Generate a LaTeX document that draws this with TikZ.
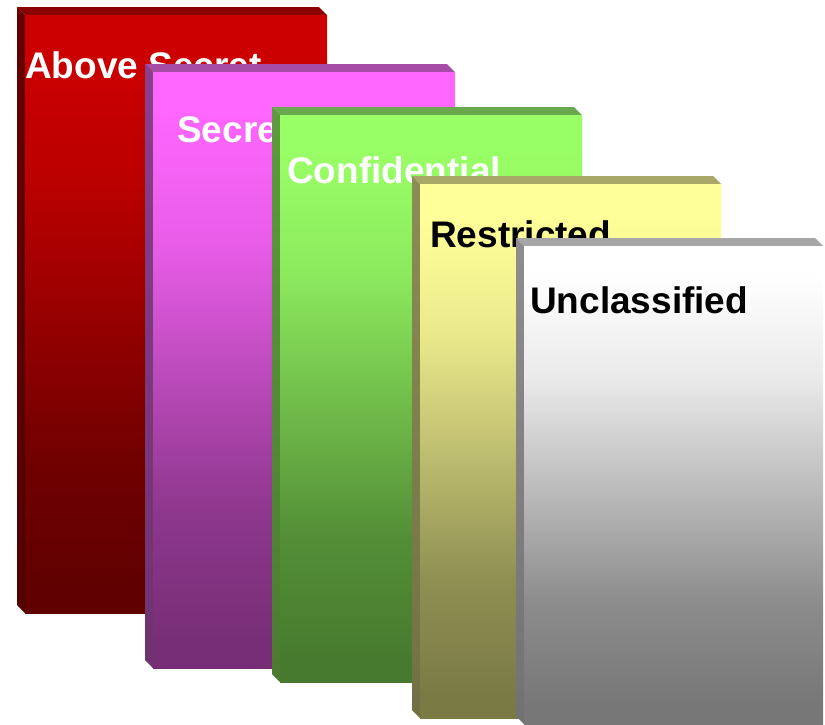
\documentclass[tikz,border=0pt]{standalone}
\usepackage{fontspec}
\setmainfont{Liberation Sans}
\begin{document}
\begin{tikzpicture}[x=1pt, y=-1pt,
    label/.style={anchor=base west, inner sep=0pt, font=\fontsize{37}{40}\selectfont\bfseries}]
    \useasboundingbox (0,0) rectangle (825,724);

    % Draw one bevelled block: #1 x, #2 y, #3 right, #4 bottom, #5 top strip, #6 side strip, #7 front top, #8 front bottom
    \newcommand{\levelblock}[8]{%
        \pgfdeclareverticalshading{front#7}{100bp}{color(0bp)=(#8); color(27bp)=(#8);
            color(38bp)=(#7!16!#8); color(49.5bp)=(#7!50!#8); color(61bp)=(#7!84!#8);
            color(72bp)=(#7); color(100bp)=(#7)}%
        \fill[#5] (#1,#2) -- (#3-8,#2) -- (#3,#2+8) -- (#1+8,#2+8) -- cycle;
        \shade[top color=#6, bottom color=#6!80!black] (#1,#2) -- (#1+8,#2+8) -- (#1+8,#4) -- (#1,#4-8) -- cycle;
        \shade[shading=front#7] (#1+8,#2+8) rectangle (#3,#4);
    }

    % Above Secret
    \definecolor{abovetop}{HTML}{CC0000}
    \definecolor{abovebot}{HTML}{600000}
    \definecolor{abovestrip}{HTML}{8B0000}
    \definecolor{aboveside}{HTML}{660000}
    \levelblock{17}{7}{327}{613}{abovestrip}{aboveside}{abovetop}{abovebot}
    \node[label, white] (abovesecret) at (25,78) {Above Secret};

    % Secret
    \definecolor{secrettop}{HTML}{FF66FF}
    \definecolor{secretbot}{HTML}{772E76}
    \definecolor{secretstrip}{HTML}{A64CA6}
    \definecolor{secretside}{HTML}{8A3F8A}
    \levelblock{145}{64}{455}{668}{secretstrip}{secretside}{secrettop}{secretbot}
    \node[label, white] (secret) at (177,142) {Secret};

    % Confidential
    \definecolor{conftop}{HTML}{99FF66}
    \definecolor{confbot}{HTML}{477A2E}
    \definecolor{confstrip}{HTML}{6AA84F}
    \definecolor{confside}{HTML}{5E9A3E}
    \levelblock{272}{107}{582}{682}{confstrip}{confside}{conftop}{confbot}
    \node[label, white] (confidential) at (287,183) {Confidential};

    % Restricted
    \definecolor{resttop}{HTML}{FFFF99}
    \definecolor{restbot}{HTML}{7A7A45}
    \definecolor{reststrip}{HTML}{A8A866}
    \definecolor{restside}{HTML}{8C8C55}
    \levelblock{412}{176}{721}{718}{reststrip}{restside}{resttop}{restbot}
    \node[label, black] (restricted) at (430,247) {Restricted};

    % Unclassified
    \definecolor{unctop}{HTML}{FFFFFF}
    \definecolor{uncbot}{HTML}{777777}
    \definecolor{uncstrip}{HTML}{A6A6A6}
    \definecolor{uncside}{HTML}{8E8E8E}
    \levelblock{516}{238}{823}{724}{uncstrip}{uncside}{unctop}{uncbot}
    \node[label, black] (unclassified) at (530,313) {Unclassified};
\end{tikzpicture}
\end{document}
